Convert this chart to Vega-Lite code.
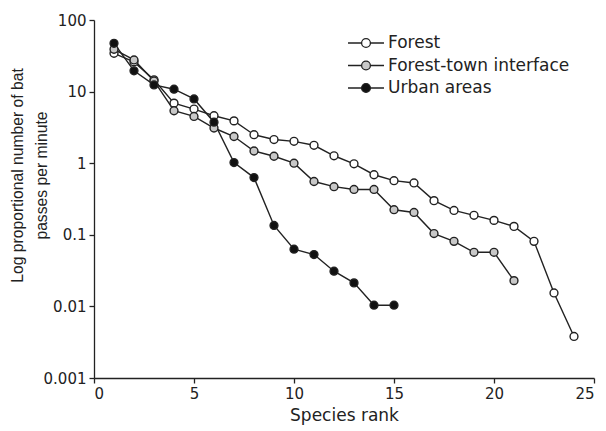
{
  "$schema": "https://vega.github.io/schema/vega-lite/v6.json",
  "width": 500,
  "height": 358,
  "autosize": {"type": "none"},
  "padding": {"left": 94, "top": 20, "right": 12, "bottom": 53},
  "background": "white",
  "config": {
    "view": {"stroke": null},
    "font": "DejaVu Sans",
    "axis": {
      "grid": false,
      "domainColor": "#222",
      "domainWidth": 1.3,
      "tickColor": "#222",
      "tickWidth": 1.3,
      "tickSize": 5,
      "labelFont": "DejaVu Sans",
      "labelFontSize": 15,
      "labelColor": "#222",
      "titleFont": "DejaVu Sans",
      "titleFontSize": 17,
      "titleFontWeight": "normal",
      "titleColor": "#222"
    }
  },
  "data": {
    "values": [
      {"series": "Forest", "rank": 1, "value": 34.3},
      {"series": "Forest", "rank": 2, "value": 26},
      {"series": "Forest", "rank": 3, "value": 14.6},
      {"series": "Forest", "rank": 4, "value": 6.9},
      {"series": "Forest", "rank": 5, "value": 5.7},
      {"series": "Forest", "rank": 6, "value": 4.6},
      {"series": "Forest", "rank": 7, "value": 3.9},
      {"series": "Forest", "rank": 8, "value": 2.5},
      {"series": "Forest", "rank": 9, "value": 2.14},
      {"series": "Forest", "rank": 10, "value": 2.02},
      {"series": "Forest", "rank": 11, "value": 1.78},
      {"series": "Forest", "rank": 12, "value": 1.27},
      {"series": "Forest", "rank": 13, "value": 0.98},
      {"series": "Forest", "rank": 14, "value": 0.69},
      {"series": "Forest", "rank": 15, "value": 0.57},
      {"series": "Forest", "rank": 16, "value": 0.53},
      {"series": "Forest", "rank": 17, "value": 0.30},
      {"series": "Forest", "rank": 18, "value": 0.219},
      {"series": "Forest", "rank": 19, "value": 0.187},
      {"series": "Forest", "rank": 20, "value": 0.159},
      {"series": "Forest", "rank": 21, "value": 0.131},
      {"series": "Forest", "rank": 22, "value": 0.081},
      {"series": "Forest", "rank": 23, "value": 0.0154},
      {"series": "Forest", "rank": 24, "value": 0.0038},
      {"series": "Forest-town interface", "rank": 1, "value": 39},
      {"series": "Forest-town interface", "rank": 2, "value": 27.7},
      {"series": "Forest-town interface", "rank": 3, "value": 14.1},
      {"series": "Forest-town interface", "rank": 4, "value": 5.4},
      {"series": "Forest-town interface", "rank": 5, "value": 4.5},
      {"series": "Forest-town interface", "rank": 6, "value": 3.1},
      {"series": "Forest-town interface", "rank": 7, "value": 2.36},
      {"series": "Forest-town interface", "rank": 8, "value": 1.48},
      {"series": "Forest-town interface", "rank": 9, "value": 1.25},
      {"series": "Forest-town interface", "rank": 10, "value": 1.0},
      {"series": "Forest-town interface", "rank": 11, "value": 0.555},
      {"series": "Forest-town interface", "rank": 12, "value": 0.47},
      {"series": "Forest-town interface", "rank": 13, "value": 0.43},
      {"series": "Forest-town interface", "rank": 14, "value": 0.43},
      {"series": "Forest-town interface", "rank": 15, "value": 0.224},
      {"series": "Forest-town interface", "rank": 16, "value": 0.205},
      {"series": "Forest-town interface", "rank": 17, "value": 0.104},
      {"series": "Forest-town interface", "rank": 18, "value": 0.081},
      {"series": "Forest-town interface", "rank": 19, "value": 0.057},
      {"series": "Forest-town interface", "rank": 20, "value": 0.057},
      {"series": "Forest-town interface", "rank": 21, "value": 0.0229},
      {"series": "Urban areas", "rank": 1, "value": 47.3},
      {"series": "Urban areas", "rank": 2, "value": 19.5},
      {"series": "Urban areas", "rank": 3, "value": 12.4},
      {"series": "Urban areas", "rank": 4, "value": 10.8},
      {"series": "Urban areas", "rank": 5, "value": 7.9},
      {"series": "Urban areas", "rank": 6, "value": 3.74},
      {"series": "Urban areas", "rank": 7, "value": 1.02},
      {"series": "Urban areas", "rank": 8, "value": 0.63},
      {"series": "Urban areas", "rank": 9, "value": 0.135},
      {"series": "Urban areas", "rank": 10, "value": 0.063},
      {"series": "Urban areas", "rank": 11, "value": 0.053},
      {"series": "Urban areas", "rank": 12, "value": 0.031},
      {"series": "Urban areas", "rank": 13, "value": 0.0213},
      {"series": "Urban areas", "rank": 14, "value": 0.0104},
      {"series": "Urban areas", "rank": 15, "value": 0.0104}
    ]
  },
  "encoding": {
    "x": {
      "field": "rank",
      "type": "quantitative",
      "scale": {"domain": [0, 25], "nice": false, "zero": false},
      "axis": {"values": [0, 5, 10, 15, 20, 25], "title": "Species rank", "titlePadding": 6, "labelPadding": 3}
    },
    "y": {
      "field": "value",
      "type": "quantitative",
      "scale": {"type": "log", "domain": [0.001, 100], "nice": false},
      "axis": {
        "values": [0.001, 0.01, 0.1, 1, 10, 100],
        "format": "~g",
        "title": ["Log proportional number of bat", "passes per minute"],
        "titleFont": "Liberation Sans",
        "titleFontSize": 15.7,
        "titleLineHeight": 24.5,
        "titleBaseline": "alphabetic",
        "titleAngle": -90,
        "titleX": -72,
        "titleY": 155,
        "titleAlign": "center",
        "labelPadding": 3
      }
    }
  },
  "layer": [
    {
      "mark": {"type": "line", "color": "#222", "strokeWidth": 1.4},
      "encoding": {"detail": {"field": "series"}}
    },
    {
      "mark": {"type": "point", "shape": "circle", "filled": true, "size": 62, "stroke": "#222", "strokeWidth": 1.4, "opacity": 1},
      "encoding": {
        "fill": {
          "field": "series",
          "type": "nominal",
          "scale": {"domain": ["Forest", "Forest-town interface", "Urban areas"], "range": ["#ffffff", "#c8c8c8", "#111111"]},
          "legend": {
            "title": null,
            "orient": "none",
            "legendX": 260,
            "legendY": 11,
            "padding": 0,
            "symbolType": "M -1.636 0 H -0.4 M 0.4 0 H 1.636 M -0.4 0 A 0.4 0.4 0 1 1 0.4 0 A 0.4 0.4 0 1 1 -0.4 0 Z",
            "symbolSize": 484,
            "symbolStrokeColor": "#222",
            "symbolStrokeWidth": 1.3,
            "symbolOpacity": 1,
            "labelFont": "DejaVu Sans",
            "labelFontSize": 17,
            "labelColor": "#222",
            "labelOffset": 10,
            "labelLimit": 400,
            "rowPadding": 2.5
          }
        }
      }
    }
  ]
}
